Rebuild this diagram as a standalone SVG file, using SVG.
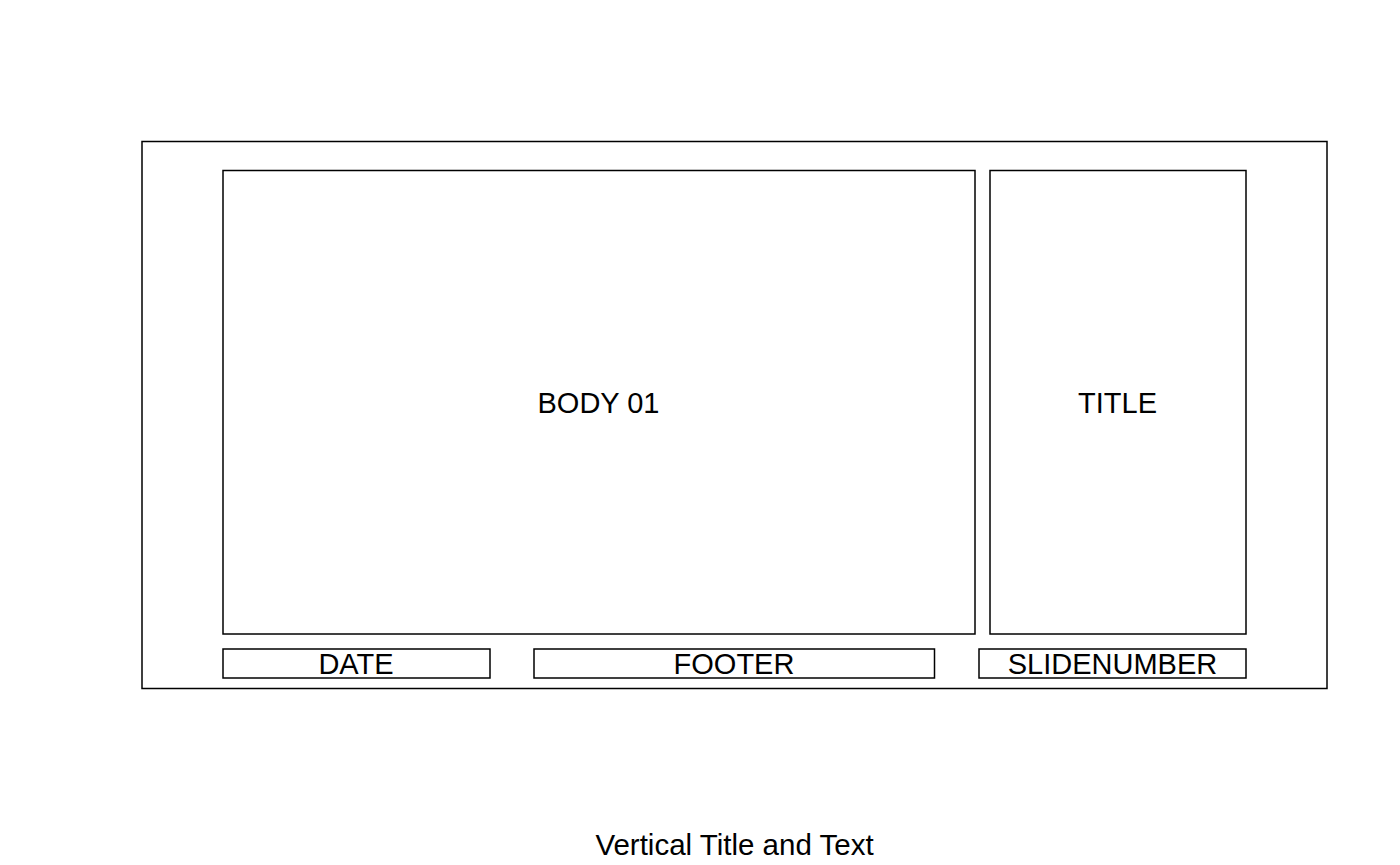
<svg xmlns="http://www.w3.org/2000/svg" width="1400" height="865" viewBox="0 0 1400 865">
<style>
.box{fill:#fff;stroke:#000;stroke-width:1.5}
.lbl{font-family:"Liberation Sans",Arial,sans-serif;font-size:29px;fill:#000;text-anchor:middle}
</style>
<rect width="1400" height="865" fill="#fff"/>
<g id="slide"><rect class="box" x="142" y="141.5" width="1185" height="547"/></g>
<g id="body"><rect class="box" x="223" y="170.5" width="752" height="463.5"/><text class="lbl" x="598.5" y="413">BODY 01</text></g>
<g id="title"><rect class="box" x="990" y="170.5" width="256" height="463.5"/><text class="lbl" x="1117.5" y="413">TITLE</text></g>
<g id="date"><rect class="box" x="223" y="649" width="267" height="29"/><text class="lbl" x="356" y="674">DATE</text></g>
<g id="footer"><rect class="box" x="534" y="649" width="400.5" height="29"/><text class="lbl" x="734" y="674">FOOTER</text></g>
<g id="slidenumber"><rect class="box" x="979" y="649" width="267" height="29"/><text class="lbl" x="1112.5" y="674">SLIDENUMBER</text></g>
<g id="connectors"></g>
<text class="lbl" x="734.5" y="855" style="font-size:29.5px">Vertical Title and Text</text>
</svg>
